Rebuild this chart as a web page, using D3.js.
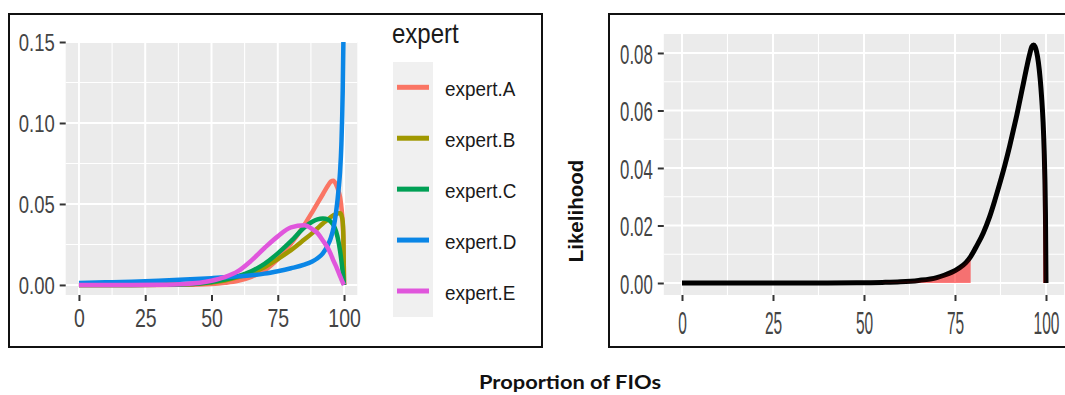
<!DOCTYPE html>
<html>
<head>
<meta charset="utf-8">
<script src="https://cdn.jsdelivr.net/npm/d3@7"></script>
<style>
  html, body { margin: 0; padding: 0; background: #fff; }
  svg { display: block; }
</style>
</head>
<body>
<div id="chart"></div>
<script>
// values
const expertX = [0, 10, 20, 30, 40, 50, 55, 60, 65, 70, 75, 80, 85, 88, 90, 92, 94, 95, 96, 97, 98, 98.5, 99, 99.5, 99.75, 100];
const expertA = [0, 0, 0, 0, 0.0001, 0.0006, 0.0013, 0.0025, 0.005, 0.009, 0.016, 0.0255, 0.037, 0.045, 0.0505, 0.056, 0.0615, 0.0638, 0.0644, 0.062, 0.0575, 0.054, 0.048, 0.038, 0.028, 0];
const expertB = [0, 0, 0, 0.0001, 0.0004, 0.0015, 0.0028, 0.0048, 0.0075, 0.011, 0.016, 0.0215, 0.028, 0.032, 0.035, 0.038, 0.0405, 0.042, 0.043, 0.0438, 0.0442, 0.0442, 0.043, 0.039, 0.03, 0];
const expertC = [0, 0, 0, 0.0001, 0.0004, 0.0018, 0.0033, 0.0055, 0.0085, 0.013, 0.0195, 0.027, 0.0355, 0.039, 0.0405, 0.041, 0.0403, 0.039, 0.037, 0.033, 0.026, 0.021, 0.015, 0.008, 0.004, 0];
const expertD = [0.0012, 0.0016, 0.002, 0.0026, 0.0033, 0.0042, 0.0047, 0.0053, 0.006, 0.007, 0.0085, 0.0103, 0.0125, 0.0145, 0.0165, 0.0195, 0.025, 0.029, 0.035, 0.045, 0.06, 0.07, 0.087, 0.12, 0.15, null];
const expertE = [0, 0, 0, 0.0001, 0.0006, 0.0026, 0.0048, 0.0085, 0.015, 0.0228, 0.03, 0.0355, 0.0368, 0.0345, 0.032, 0.0275, 0.0225, 0.019, 0.015, 0.0115, 0.0075, 0.0055, 0.0035, 0.0015, 0.0007, 0];

const expertNames = ['expert.A', 'expert.B', 'expert.C', 'expert.D', 'expert.E'];
const expertColors = ['#fa7564', '#a09800', '#00a055', '#0a86e6', '#e056dc'];
const expertSeries = [expertA, expertB, expertC, expertD, expertE];

const leftXTicks = [0, 25, 50, 75, 100];
const leftYTicks = [0, 0.05, 0.10, 0.15];

const likeX = [0, 10, 20, 30, 40, 50, 55, 60, 65, 70, 72, 74, 76, 78, 79.3, 81, 82.8, 84.5, 86, 87.5, 88.7, 90, 91, 92, 92.9, 93.8, 94.7, 95.5, 96.1, 96.6, 97, 97.4, 97.9, 98.4, 98.8, 99.2, 99.5, 99.7, 99.85, 100];
const likeY = [0, 0, 0, 0, 0, 0.0001, 0.0002, 0.0004, 0.0009, 0.0019, 0.0027, 0.0037, 0.0051, 0.0071, 0.0092, 0.013, 0.0175, 0.023, 0.029, 0.0355, 0.041, 0.0475, 0.053, 0.0585, 0.064, 0.0695, 0.075, 0.0795, 0.0822, 0.0828, 0.0822, 0.0805, 0.0768, 0.071, 0.0645, 0.056, 0.046, 0.036, 0.024, 0];
const tailLow = 79.3;
const tailHigh = 99.2;

const rightXTicks = [0, 25, 50, 75, 100];
const rightYTicks = [0, 0.02, 0.04, 0.06, 0.08];

const width = 1065, height = 395;
const tickFont = '"Liberation Sans", Arial, sans-serif';

const svg = d3.select('#chart').append('svg')
  .attr('width', width)
  .attr('height', height);

// outer boxes
svg.append('rect').attr('x', 9).attr('y', 14).attr('width', 533).attr('height', 333)
  .attr('fill', 'none').attr('stroke', '#111').attr('stroke-width', 2);
svg.append('rect').attr('x', 609).attr('y', 14).attr('width', 470).attr('height', 333)
  .attr('fill', 'none').attr('stroke', '#111').attr('stroke-width', 2);

function drawPanel(x, y, xMajor, yMajor) {
  const [x0, x1] = x.range();
  const [y0, y1] = y.range();
  const g = svg.append('g');
  g.append('rect').attr('x', x0).attr('y', y1).attr('width', x1 - x0).attr('height', y0 - y1)
    .attr('fill', '#ebebeb');
  const mids = a => a.slice(1).map((v, i) => (v + a[i]) / 2);
  mids(xMajor).forEach(v => g.append('line').attr('x1', x(v)).attr('x2', x(v)).attr('y1', y1).attr('y2', y0)
    .attr('stroke', '#fff').attr('stroke-width', 1.1));
  mids(yMajor).forEach(v => g.append('line').attr('x1', x0).attr('x2', x1).attr('y1', y(v)).attr('y2', y(v))
    .attr('stroke', '#fff').attr('stroke-width', 1.1));
  xMajor.forEach(v => g.append('line').attr('x1', x(v)).attr('x2', x(v)).attr('y1', y1).attr('y2', y0)
    .attr('stroke', '#fff').attr('stroke-width', 2));
  yMajor.forEach(v => g.append('line').attr('x1', x0).attr('x2', x1).attr('y1', y(v)).attr('y2', y(v))
    .attr('stroke', '#fff').attr('stroke-width', 2));
}

function leftAxis(y, ticks, xPos, size, sx, gap) {
  const g = svg.append('g').attr('transform', `translate(${xPos},0)`)
    .call(d3.axisLeft(y).tickValues(ticks).tickFormat(d3.format('.2f')).tickSize(6).tickPadding(0));
  g.select('.domain').remove();
  g.selectAll('.tick line').attr('stroke', '#333').attr('stroke-width', 2);
  g.selectAll('.tick text')
    .attr('x', 0).attr('dy', '0.36em')
    .attr('transform', `translate(${-gap},0) scale(${sx},1)`)
    .attr('font-size', size).attr('font-family', tickFont).attr('fill', '#444');
}

function bottomAxis(x, ticks, yPos, size, sx, gap) {
  const g = svg.append('g').attr('transform', `translate(0,${yPos})`)
    .call(d3.axisBottom(x).tickValues(ticks).tickSize(6).tickPadding(0));
  g.select('.domain').remove();
  g.selectAll('.tick line').attr('stroke', '#333').attr('stroke-width', 2);
  g.selectAll('.tick text')
    .attr('y', gap).attr('dy', '0.71em')
    .attr('transform', `scale(${sx},1)`)
    .attr('font-size', size).attr('font-family', tickFont).attr('fill', '#444');
}

// ---- left panel: expert densities
const xL = d3.scaleLinear().domain([-5, 105]).range([65.7, 357.3]);
const yL = d3.scaleLinear().domain([-0.0062, 0.15]).range([295, 42]);
drawPanel(xL, yL, leftXTicks, leftYTicks);
leftAxis(yL, leftYTicks, 65.7, 24, 0.77, 11);
bottomAxis(xL, leftXTicks, 295, 25, 0.78, 14);

const lineL = d3.line()
  .defined(d => d[1] !== null)
  .x(d => xL(d[0]))
  .y(d => yL(d[1]))
  .curve(d3.curveMonotoneX);

expertSeries.forEach((vals, i) => {
  svg.append('path')
    .datum(d3.zip(expertX, vals))
    .attr('d', lineL)
    .attr('fill', 'none')
    .attr('stroke', expertColors[i])
    .attr('stroke-width', 4.5);
});

// legend
const legend = svg.append('g');
legend.append('text').attr('x', 0).attr('y', 0)
  .attr('transform', 'translate(392,43) scale(0.89,1)')
  .attr('font-size', 27).attr('font-family', tickFont).attr('fill', '#1a1a1a')
  .text('expert');
const keyY = d3.scalePoint().domain(expertNames).range([87.3, 291]);
legend.append('rect').attr('x', 393).attr('y', 62).attr('width', 40).attr('height', 255)
  .attr('fill', '#f0f0f0');
expertNames.forEach((name, i) => {
  legend.append('line')
    .attr('x1', 397).attr('x2', 429)
    .attr('y1', keyY(name)).attr('y2', keyY(name))
    .attr('stroke', expertColors[i]).attr('stroke-width', 5);
  legend.append('text')
    .attr('x', 0).attr('y', 0)
    .attr('transform', `translate(445,${keyY(name) + 9}) scale(0.9,1)`)
    .attr('font-size', 21).attr('font-family', tickFont).attr('fill', '#1a1a1a')
    .text(name);
});

// ---- right panel: likelihood with shaded tails
const xR = d3.scaleLinear().domain([-5, 105]).range([663.8, 1064.2]);
const yR = d3.scaleLinear().domain([-0.00417, 0.0866]).range([295, 34]);
drawPanel(xR, yR, rightXTicks, rightYTicks);
leftAxis(yR, rightYTicks, 663.8, 28, 0.6, 11);
bottomAxis(xR, rightXTicks, 295, 31, 0.5, 17);

const likePts = d3.zip(likeX, likeY);
const areaR = d3.area()
  .x(d => xR(d[0]))
  .y0(yR(0))
  .y1(d => yR(d[1]))
  .curve(d3.curveMonotoneX);
const lineR = d3.line()
  .x(d => xR(d[0]))
  .y(d => yR(d[1]))
  .curve(d3.curveMonotoneX);

const tails = [likePts.filter(d => d[0] <= tailLow), likePts.filter(d => d[0] >= tailHigh)];
tails.forEach(tail => {
  svg.append('path').datum(tail).attr('d', areaR)
    .attr('fill', '#ff0000').attr('fill-opacity', 0.45);
});
svg.append('path').datum(likePts).attr('d', lineR)
  .attr('fill', 'none').attr('stroke', '#000').attr('stroke-width', 5);
// faint red tint where the tails run under the line
tails.forEach(tail => {
  svg.append('path').datum(tail.filter(d => d[0] >= 55 || d[0] >= tailHigh)).attr('d', areaR)
    .attr('fill', '#ff0000').attr('fill-opacity', 0.12);
});

svg.append('text')
  .attr('transform', 'translate(583,211) rotate(-90)')
  .attr('text-anchor', 'middle')
  .attr('font-size', 20.5).attr('font-weight', 700).attr('font-family', tickFont).attr('fill', '#111')
  .text('Likelihood');

svg.append('text')
  .attr('x', 479).attr('y', 389)
  .attr('textLength', 182).attr('lengthAdjust', 'spacingAndGlyphs')
  .attr('font-size', 19.5).attr('font-weight', 700).attr('font-family', 'Lato, "Open Sans", sans-serif').attr('fill', '#111')
  .text('Proportion of FIOs');
</script>
</body>
</html>
